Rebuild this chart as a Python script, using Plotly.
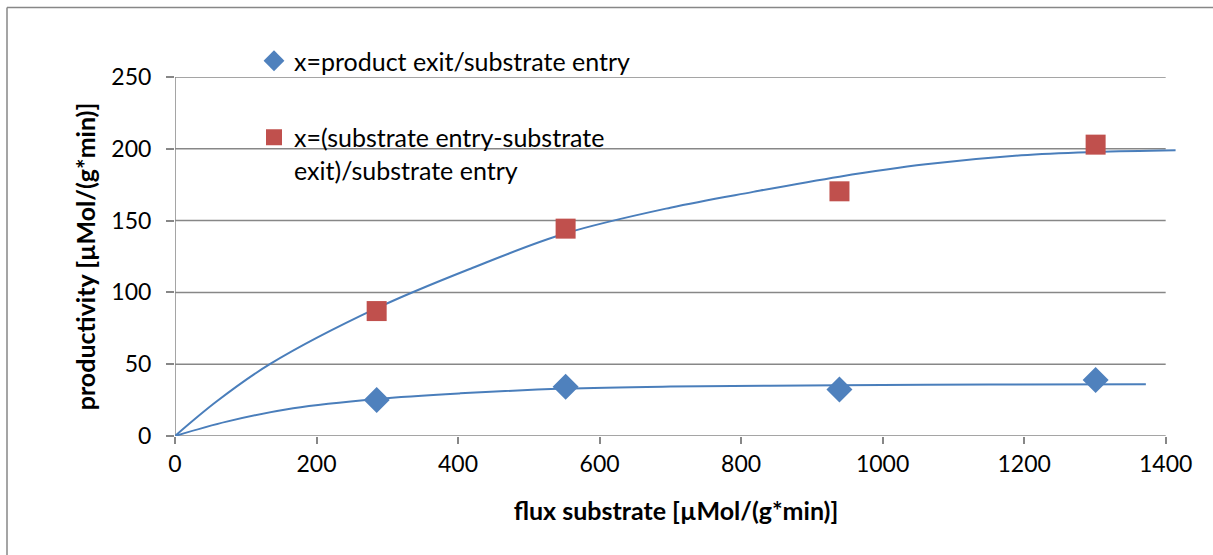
import plotly.graph_objects as go

# Measured points
flux = [285, 552, 939, 1301]
prod_exit = [25.1, 34.3, 32.3, 39.0]
substrate_diff = [87.0, 144.4, 170.4, 202.9]

# Trend lines
trend_upper_x = [0, 60, 134, 285, 420, 551, 700, 817, 939, 1061, 1196, 1301, 1414]
trend_upper_y = [0, 24.5, 50, 89, 117, 141, 159, 170, 180.6, 189.2, 195.5, 197.8, 199]
trend_lower_x = [0, 73, 167, 285, 403, 551, 700, 939, 1150, 1372]
trend_lower_y = [0, 10, 19.3, 25.8, 29.7, 33.0, 34.4, 35.3, 35.8, 36.0]

x_ticks = [0, 200, 400, 600, 800, 1000, 1200, 1400]
y_ticks = [0, 50, 100, 150, 200, 250]

label_exit = "x=product exit/substrate entry"
label_diff = "x=(substrate entry-substrate<br>exit)/substrate entry"
x_title = "flux substrate [µMol/(g*min)]"
y_title = "productivity [µMol/(g*min)]"

BLUE = "#4F81BD"
RED = "#C0504D"
LINE = "#4A7EBB"
GRID = "#878787"
FONT = "Lato"

fig = go.Figure()

fig.add_trace(go.Scatter(x=trend_upper_x, y=trend_upper_y, mode="lines",
                         line=dict(color=LINE, width=2, shape="spline", smoothing=1.0),
                         showlegend=False, hoverinfo="skip"))
fig.add_trace(go.Scatter(x=trend_lower_x, y=trend_lower_y, mode="lines",
                         line=dict(color=LINE, width=2, shape="spline", smoothing=1.0),
                         showlegend=False, hoverinfo="skip"))

fig.add_trace(go.Scatter(x=flux, y=prod_exit, mode="markers", name=label_exit,
                         legendgroup="a",
                         marker=dict(symbol="diamond", size=20, color=BLUE)))
fig.add_trace(go.Scatter(x=flux, y=substrate_diff, mode="markers", name=label_diff,
                         legendgroup="b",
                         marker=dict(symbol="square", size=20, color=RED)))

shapes = []
# horizontal gridlines limited to the axis span
for v in y_ticks[1:]:
    shapes.append(dict(type="line", xref="x", yref="y", x0=0, x1=1400, y0=v, y1=v,
                       line=dict(color=GRID, width=1.5), layer="below"))
# white panel behind the legend
shapes.append(dict(type="rect", xref="paper", yref="paper",
                   x0=(210 - 175) / 1002, x1=(689 - 175) / 1002,
                   y0=(436 - 195) / 359, y1=(436 - 40) / 359,
                   fillcolor="white", line=dict(width=0), layer="below"))
# axis lines
shapes.append(dict(type="line", xref="x", yref="y", x0=0, x1=0, y0=0, y1=250,
                   line=dict(color=GRID, width=1.5), layer="below"))
shapes.append(dict(type="line", xref="x", yref="y", x0=0, x1=1400, y0=0, y1=0,
                   line=dict(color=GRID, width=1.5), layer="below"))
# chart frame (top and left edges)
shapes.append(dict(type="line", xref="paper", yref="paper",
                   x0=(7 - 175) / 1002, x1=(1213 - 175) / 1002,
                   y0=(436 - 7.5) / 359, y1=(436 - 7.5) / 359,
                   line=dict(color=GRID, width=1.5)))
shapes.append(dict(type="line", xref="paper", yref="paper",
                   x0=(7 - 175) / 1002, x1=(7 - 175) / 1002,
                   y0=(436 - 7.5) / 359, y1=(436 - 560) / 359,
                   line=dict(color=GRID, width=1.5)))

fig.update_layout(
    width=1213, height=555,
    margin=dict(l=175, r=36, t=77, b=119),
    paper_bgcolor="white", plot_bgcolor="white",
    font=dict(family=FONT, size=24, color="black"),
    shapes=shapes,
    showlegend=True,
    legend=dict(x=(254 - 175) / 1002, y=(436 - 38) / 359, xanchor="left", yanchor="top",
                bgcolor="rgba(0,0,0,0)", font=dict(family=FONT, size=25),
                tracegroupgap=41, valign="top", itemwidth=30),
    xaxis=dict(range=[0, 1416], tickvals=x_ticks, ticktext=[str(v) for v in x_ticks],
               showgrid=False, zeroline=False, showline=False,
               ticks="outside", ticklen=7, tickwidth=1.5, tickcolor=GRID,
               tickfont=dict(family=FONT, size=23),
               title=dict(text="<b>" + x_title + "</b>", font=dict(family=FONT, size=25),
                          standoff=26)),
    yaxis=dict(range=[0, 250], tickvals=y_ticks, ticktext=[str(v) for v in y_ticks],
               showgrid=False, zeroline=False, showline=False,
               ticks="outside", ticklen=8, tickwidth=1.5, tickcolor=GRID,
               ticklabelstandoff=10,
               tickfont=dict(family=FONT, size=23),
               title=dict(text="<b>" + y_title + "</b>", font=dict(family=FONT, size=25),
                          standoff=8)),
)

fig.write_html("out.html")
